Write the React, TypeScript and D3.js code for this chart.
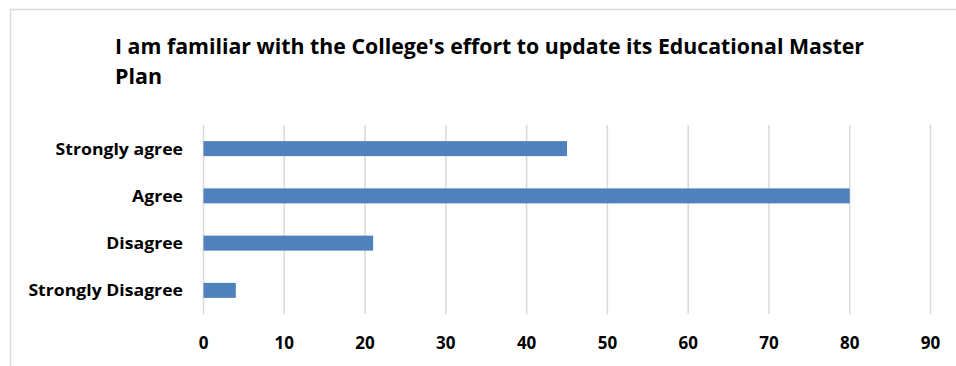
import React, { useEffect, useRef } from "react";
import * as d3 from "d3";

const categories = ["Strongly agree", "Agree", "Disagree", "Strongly Disagree"];
const values = [45, 80, 21, 4];
const tickValues = [0, 10, 20, 30, 40, 50, 60, 70, 80, 90];
const titleLines = ["I am familiar with the College's effort to update its Educational Master", "Plan"];

const W = 956;
const H = 366;
const FONT = "'Open Sans', sans-serif";

export default function App() {
  const ref = useRef<SVGSVGElement | null>(null);

  useEffect(() => {
    const svg = d3.select(ref.current);
    svg.selectAll("*").remove();

    svg.append("rect").attr("x", 0).attr("y", 0).attr("width", W).attr("height", H).attr("fill", "#fff");
    svg.append("rect")
      .attr("x", 10.5).attr("y", 9.5).attr("width", 1000).attr("height", 500)
      .attr("fill", "none").attr("stroke", "#d9d9d9").attr("stroke-width", 1.5);

    const x = d3.scaleLinear().domain([0, 90]).range([203.5, 930.5]);
    const y = d3.scaleBand<string>().domain(categories).range([125, 314]).paddingInner(0.683).paddingOuter(0.3415);

    // title
    const t = svg.append("text")
      .attr("font-family", FONT).attr("font-weight", 700).attr("font-size", 21).attr("fill", "#000");
    t.append("tspan").attr("x", 115).attr("y", 53.5).text(titleLines[0])
      .attr("textLength", 749).attr("lengthAdjust", "spacingAndGlyphs");
    t.append("tspan").attr("x", 115).attr("y", 84).text(titleLines[1])
      .attr("textLength", 47).attr("lengthAdjust", "spacingAndGlyphs");

    // gridlines
    svg.append("g").selectAll("line").data(tickValues).join("line")
      .attr("x1", (d) => x(d)).attr("x2", (d) => x(d))
      .attr("y1", 125).attr("y2", 314)
      .attr("stroke", "#d9d9d9").attr("stroke-width", 1.5);

    // bars
    svg.append("g").selectAll("rect").data(categories).join("rect")
      .attr("x", x(0))
      .attr("y", (d) => y(d)!)
      .attr("width", (_d, i) => x(values[i]) - x(0))
      .attr("height", y.bandwidth())
      .attr("fill", "#4f81bd");

    // category labels
    svg.append("g").selectAll("text").data(categories).join("text")
      .attr("transform", (d) => `translate(183,${y(d)! + y.bandwidth() / 2}) scale(1.07,1)`)
      .attr("dy", "0.36em")
      .attr("text-anchor", "end")
      .attr("font-family", FONT).attr("font-weight", 700).attr("font-size", 16.5).attr("fill", "#000")
      .text((d) => d);

    // tick labels
    svg.append("g").selectAll("text").data(tickValues).join("text")
      .attr("x", (d) => x(d))
      .attr("y", 349)
      .attr("text-anchor", "middle")
      .attr("font-family", FONT).attr("font-weight", 700).attr("font-size", 17).attr("fill", "#000")
      .text((d) => String(d));
  }, []);

  return (
    <svg
      ref={ref}
      width={W}
      height={H}
      style={{ position: "absolute", left: 0, top: 0, display: "block" }}
    />
  );
}
